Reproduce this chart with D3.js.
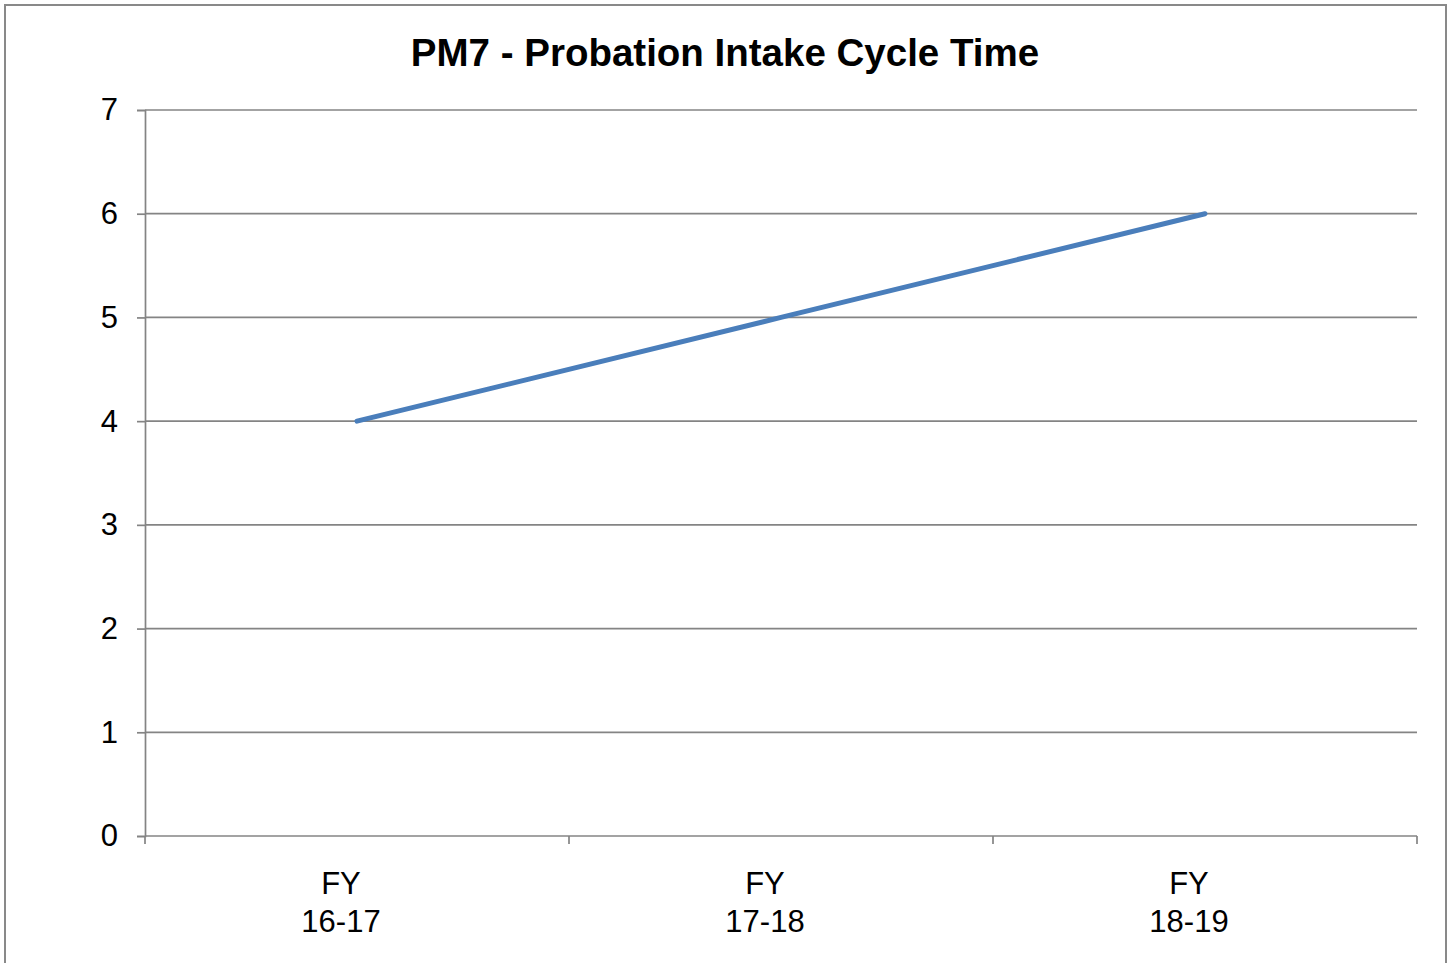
<!DOCTYPE html>
<html>
<head>
<meta charset="utf-8">
<script src="https://cdn.jsdelivr.net/npm/d3@7"></script>
<style>
  html, body { margin: 0; padding: 0; background: #fff; }
  svg { display: block; }
  text { font-family: "Liberation Sans", Arial, sans-serif; fill: #000; }
</style>
</head>
<body>
<svg id="chart" width="1453" height="963"></svg>
<script>
const title = "PM7 - Probation Intake Cycle Time";
const categories = ["FY 16-17", "FY 17-18", "FY 18-19"];
const values = [4, 5, 6];
const yTicks = [0, 1, 2, 3, 4, 5, 6, 7];

const W = 1453, H = 963;
const margin = { left: 145, right: 36, top: 110, bottom: 127 };
const svg = d3.select("#chart");

// outer chart border
svg.append("rect")
  .attr("x", 5).attr("y", 5)
  .attr("width", 1441).attr("height", H + 20)
  .attr("fill", "none").attr("stroke", "#898989").attr("stroke-width", 2);

const x = d3.scaleBand().domain(categories).range([margin.left, W - margin.right]).padding(0);
const y = d3.scaleLinear().domain([0, 7]).range([H - margin.bottom, margin.top]);

const gridColor = "#848484";

// y axis with gridlines
const yAxis = svg.append("g")
  .attr("transform", `translate(${margin.left},0)`)
  .call(d3.axisLeft(y).tickValues(yTicks).tickSize(8).tickPadding(19).tickFormat(d3.format("d")));
yAxis.select(".domain").attr("stroke", gridColor).attr("stroke-width", 1.7);
yAxis.selectAll(".tick line").attr("stroke", gridColor).attr("stroke-width", 1.7);
yAxis.selectAll(".tick text").style("font-size", "31px").attr("fill", "#000")
  .style("font-family", "'Liberation Sans', Arial, sans-serif");

svg.append("g").selectAll("line").data(yTicks).join("line")
  .attr("x1", margin.left).attr("x2", W - margin.right)
  .attr("y1", d => y(d)).attr("y2", d => y(d))
  .attr("stroke", gridColor).attr("stroke-width", 1.7);

// x axis: ticks at band boundaries
const boundaries = categories.map(c => x(c)).concat([x.range()[1]]);
svg.append("g").selectAll("line").data(boundaries).join("line")
  .attr("x1", d => d).attr("x2", d => d)
  .attr("y1", y(0)).attr("y2", y(0) + 8)
  .attr("stroke", gridColor).attr("stroke-width", 1.7);

// category labels (two lines)
const lbl = svg.append("g").selectAll("text").data(categories).join("text")
  .attr("text-anchor", "middle")
  .style("font-size", "31px")
  .attr("transform", d => `translate(${x(d) + x.bandwidth() / 2 - 16},0)`);
lbl.each(function(d) {
  const parts = d.split(" ");
  const t = d3.select(this);
  parts.forEach((p, i) => {
    t.append("tspan").attr("x", 0).attr("y", 894 + i * 38).text(p);
  });
});

// data line
const line = d3.line()
  .x((d, i) => x(categories[i]) + x.bandwidth() / 2)
  .y(d => y(d));
svg.append("path")
  .datum(values)
  .attr("d", line)
  .attr("fill", "none")
  .attr("stroke", "#4a7ebb")
  .attr("stroke-width", 5)
  .attr("stroke-linecap", "round");

// title
svg.append("text")
  .attr("x", 725).attr("y", 66)
  .attr("text-anchor", "middle")
  .style("font-size", "38.5px").style("font-weight", "bold")
  .text(title);
</script>
</body>
</html>
